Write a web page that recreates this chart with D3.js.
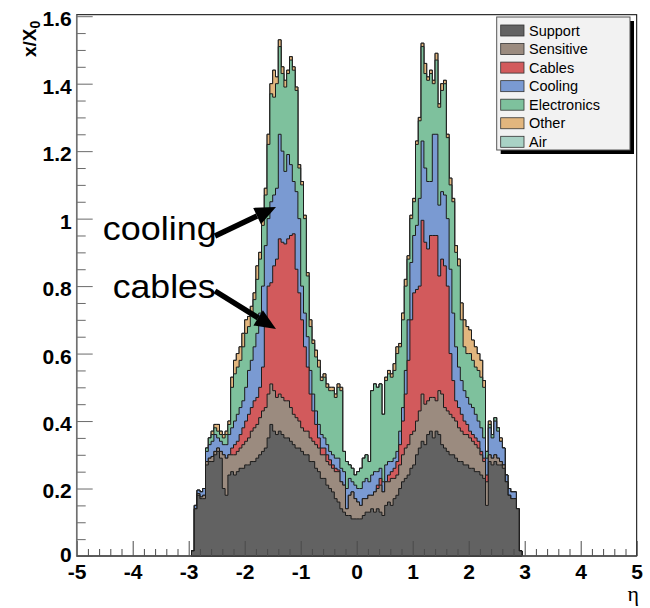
<!DOCTYPE html>
<html>
<head>
<meta charset="utf-8">
<script src="https://cdn.jsdelivr.net/npm/d3@7"></script>
<style>
  body { margin: 0; background: #fff; }
  svg { display: block; }
</style>
</head>
<body>
<svg id="chart" width="650" height="608"></svg>
<script>
// Material budget x/X0 versus pseudorapidity, stacked by category.
// Bins of width 0.05 in eta starting at -2.95 (118 bins).
const etaStart = -2.95;
const binWidth = 0.05;

const support = [
  .015,.14,.18,.17,.17,.27,.28,.28,.30,.31,
  .29,.20,.18,.24,.25,.24,.25,.26,.26,.27,
  .27,.28,.28,.29,.30,.31,.32,.35,.39,.37,
  .36,.37,.36,.35,.35,.34,.33,.32,.32,.31,
  .30,.30,.28,.28,.26,.25,.23,.23,.21,.20,
  .19,.17,.16,.14,.13,.12,.12,.11,.11,.11,
  .11,.12,.13,.13,.14,.13,.14,.13,.12,.15,
  .16,.15,.17,.18,.20,.22,.23,.24,.26,.27,
  .30,.32,.34,.33,.36,.37,.35,.37,.36,.33,
  .32,.31,.30,.30,.29,.28,.28,.27,.27,.26,
  .26,.25,.25,.24,.23,.15,.28,.27,.28,.27,
  .27,.26,.22,.18,.17,.17,.14,.015
];
const sensitive = [
  0,0,.005,.005,.01,.01,.01,.015,.01,.01,
  .02,.10,.11,.06,.05,.06,.06,.06,.07,.07,
  .08,.09,.10,.10,.11,.12,.12,.13,.12,.12,
  .11,.11,.11,.11,.11,.10,.09,.09,.08,.07,
  .07,.07,.07,.06,.07,.07,.07,.07,.07,.07,
  .07,.08,.09,.08,.08,.02,.06,.08,.06,.05,
  .04,.05,.04,.05,.04,.06,.06,.08,.07,.07,
  .06,.08,.06,.06,.07,.08,.09,.09,.10,.10,
  .10,.11,.14,.12,.10,.10,.12,.09,.13,.15,
  .12,.12,.12,.11,.11,.10,.09,.09,.09,.09,
  .08,.08,.07,.06,.05,.07,.02,.02,.02,.02,
  .01,.01,0,0,0,0,0,0
];
const cables = [
  0,0,0,0,0,0,0,0,0,0,
  0,0,0,0,.02,.03,.03,.04,.05,.06,
  .07,.07,.08,.08,.09,.13,.24,.32,.30,.37,
  .41,.46,.46,.465,.48,.51,.535,.44,.38,.32,
  .25,.19,.13,.09,.06,.03,.02,.02,.02,.015,
  .01,.01,.005,0,0,0,0,0,0,0,
  0,0,0,0,0,0,.01,.02,0,0,
  .02,.02,.03,.04,.06,.10,.16,.25,.34,.41,
  .39,.37,.515,.48,.45,.48,.48,.49,.34,.40,
  .42,.37,.18,.11,.06,.06,.05,.04,.03,.02,
  .02,.02,.02,.01,.01,.02,0,0,0,0,
  0,0,0,0,0,0,0,0
];
const cooling = [
  0,.01,.01,.015,.02,.03,.04,.045,.05,.03,
  .03,.03,.04,.06,.06,.07,.08,.08,.08,.10,
  .13,.14,.16,.19,.22,.24,.24,.20,.24,.21,
  .21,.31,.27,.215,.25,.21,.155,.23,.22,.10,
  .10,.09,.07,.05,.04,.04,.04,.03,.03,.025,
  .03,.03,.035,.04,.04,.06,.05,.03,.04,.04,
  .05,.05,.06,.04,.06,.06,.04,.03,.03,.05,
  .04,.03,.03,.03,.04,.04,.07,.12,.17,.17,
  .19,.26,.235,.22,.20,.16,.30,.30,.21,.20,
  .21,.20,.25,.20,.16,.12,.10,.09,.08,.08,
  .08,.07,.06,.07,.06,.05,.08,.06,.10,.08,
  .06,.05,.02,.02,.02,.02,0,0
];
const electronics = [
  0,0,0,0,0,.01,.02,.02,.02,.02,
  .02,.02,.03,.03,.12,.14,.14,.14,.16,.16,
  .13,.14,.14,.16,.16,.18,.15,.22,.32,.29,
  .31,.26,.23,.25,.24,.31,.33,.30,.15,.30,
  .28,.18,.13,.15,.16,.17,.16,.18,.17,.18,
  .19,.18,.21,.23,.06,.08,.04,.04,.03,.05,
  .06,.07,.07,.06,.25,.26,.25,.25,.20,.25,
  .26,.25,.26,.29,.25,.26,.25,.18,.13,.10,
  .24,.23,.28,.28,.30,.32,.15,.22,.29,.30,
  .33,.24,.25,.33,.28,.30,.18,.13,.13,.15,
  .14,.14,.15,.15,.15,.02,.01,.01,.01,.01,
  0,0,0,0,0,0,0,0
];
const other = [
  0,0,0,0,0,0,0,.01,.01,.02,
  .01,.01,.01,.01,.03,.04,.04,.04,.04,.04,
  .03,.02,.02,.04,.02,.04,.02,.03,.03,.08,
  .02,.02,.02,.02,.01,.01,.01,.01,.01,.01,
  .01,.01,.02,.01,.02,.02,.01,.01,.01,.01,
  .01,.01,.01,.01,0,0,0,0,0,0,
  0,0,0,0,0,0,0,0,0,.01,
  .01,.01,.02,.02,.01,.02,.02,.01,.01,.01,
  .01,.01,.01,.03,.01,.01,.01,.02,.01,.02,
  .01,.01,.02,.01,.02,.02,.05,.08,.08,.07,
  .06,.06,.05,.05,.02,0,.01,0,0,0,
  .01,0,0,0,0,0,0,0
];
const air = [
  0,0,0,0,0,0,0,0,0,0,
  0,0,0,0,0,0,0,0,0,0,
  0,0,0,0,0,0,0,0,0,0,
  0,0,0,0,0,0,0,0,0,0,
  0,0,0,0,0,0,0,0,0,0,
  0,0,0,0,0,0,0,0,0,0,
  0,0,0,0,0,0,0,0,0,0,
  0,0,0,0,0,0,0,0,0,0,
  0,0,0,0,0,0,0,0,0,0,
  0,0,0,0,0,0,0,0,0,0,
  0,0,0,0,0,0,0,0,0,0,
  0,0,0,0,0,0,0,0
];

const layerNames = ["Support", "Sensitive", "Cables", "Cooling", "Electronics", "Other", "Air"];
const layerValues = [support, sensitive, cables, cooling, electronics, other, air];
const layerColors = ["#626262", "#9b8b7f", "#d25a5c", "#7a9ad2", "#7ec19d", "#e2b67e", "#a9d2c5"];

const xTicks = [-5, -4, -3, -2, -1, 0, 1, 2, 3, 4, 5];
const xTickLabels = ["-5", "-4", "-3", "-2", "-1", "0", "1", "2", "3", "4", "5"];
const yTicks = [0, 0.2, 0.4, 0.6, 0.8, 1.0, 1.2, 1.4, 1.6];
const yTickLabels = ["0", "0.2", "0.4", "0.6", "0.8", "1", "1.2", "1.4", "1.6"];

const svg = d3.select("#chart");
const x = d3.scaleLinear().domain([-5, 5]).range([76.7, 636.7]);
const y = d3.scaleLinear().domain([0, 1.6]).range([556, 16.2]);

// Rows for the stack layout
const rows = support.map((_, i) => {
  const r = { lo: etaStart + i * binWidth };
  layerNames.forEach((k, j) => { r[k] = layerValues[j][i]; });
  return r;
});
const stacked = d3.stack().keys(layerNames)(rows);

// Each cumulative histogram is filled from zero, topmost first,
// so the lower categories paint over it.
const area = d3.area()
  .curve(d3.curveStepAfter)
  .x(d => x(d.eta))
  .y0(y(0))
  .y1(d => y(d.top));

const histG = svg.append("g");
for (let k = stacked.length - 1; k >= 0; k--) {
  const pts = rows.map((r, i) => ({ eta: r.lo, top: stacked[k][i][1] }));
  const last = rows.length - 1;
  pts.push({ eta: rows[last].lo + binWidth, top: stacked[k][last][1] });
  histG.append("path")
    .attr("d", area(pts))
    .attr("fill", layerColors[k])
    .attr("stroke", "#1c1c1c")
    .attr("stroke-width", 1)
    .attr("stroke-linejoin", "miter");
}

// Frame
const fTop = y(1.6) - 1.5;
svg.append("rect")
  .attr("x", x(-5)).attr("y", fTop)
  .attr("width", x(5) - x(-5)).attr("height", y(0) - fTop)
  .attr("fill", "none").attr("stroke", "#000").attr("stroke-width", 1);

const tickFont = "'Liberation Sans', Arial, Helvetica, sans-serif";

// X axis: majors, minors
const xMinor = d3.range(-50, 51, 2).map(v => v / 10).filter(v => !xTicks.includes(v));
svg.append("g")
  .attr("transform", `translate(0,${y(0)})`)
  .call(d3.axisBottom(x).tickValues(xMinor).tickSize(-7).tickFormat(""))
  .call(g => g.select(".domain").remove())
  .call(g => g.selectAll("line").attr("stroke", "#4a4a4a"));
svg.append("g")
  .attr("transform", `translate(0,${y(0)})`)
  .call(d3.axisBottom(x).tickValues(xTicks).tickSize(-15).tickPadding(8)
    .tickFormat((d, i) => xTickLabels[i]))
  .call(g => g.select(".domain").remove())
  .call(g => g.selectAll("line").attr("stroke", "#4a4a4a"))
  .call(g => g.selectAll("text")
    .attr("fill", "#000")
    .style("font-family", tickFont)
    .style("font-weight", "bold")
    .style("font-size", "21px"));

// Y axis: majors, minors
const yMinor = d3.range(0, 33).map(v => v * 0.05).filter(v => Math.abs(v / 0.2 - Math.round(v / 0.2)) > 1e-6);
svg.append("g")
  .attr("transform", `translate(${x(-5)},0)`)
  .call(d3.axisLeft(y).tickValues(yMinor).tickSize(-9).tickFormat(""))
  .call(g => g.select(".domain").remove())
  .call(g => g.selectAll("line").attr("stroke", "#6a6a6a"));
svg.append("g")
  .attr("transform", `translate(${x(-5)},0)`)
  .call(d3.axisLeft(y).tickValues(yTicks).tickSize(-16).tickPadding(5)
    .tickFormat((d, i) => yTickLabels[i]))
  .call(g => g.select(".domain").remove())
  .call(g => g.selectAll("line").attr("stroke", "#6a6a6a"))
  .call(g => g.selectAll("text")
    .attr("fill", "#000")
    .attr("dy", d => d === 0 ? "0.25em" : "0.45em")
    .style("font-family", tickFont)
    .style("font-weight", "bold")
    .style("font-size", "21px"));

// Axis lines on left and bottom
svg.append("line")
  .attr("x1", x(-5)).attr("x2", x(-5)).attr("y1", fTop).attr("y2", y(0))
  .attr("stroke", "#707070").attr("stroke-width", 1.5);
svg.append("line")
  .attr("x1", x(-5)).attr("x2", x(5)).attr("y1", y(0)).attr("y2", y(0))
  .attr("stroke", "#505050").attr("stroke-width", 1.5);

// Axis titles
const yTitle = svg.append("text")
  .attr("transform", "translate(35.5,57) rotate(-90)")
  .style("font-family", tickFont)
  .style("font-weight", "bold")
  .style("font-size", "19px")
  .attr("fill", "#000");
yTitle.append("tspan").text("x/X");
yTitle.append("tspan").attr("dy", 4).style("font-size", "14px").text("0");

svg.append("text")
  .attr("x", 639).attr("y", 601)
  .attr("text-anchor", "end")
  .style("font-family", "'Liberation Serif', 'DejaVu Serif', serif")
  .style("font-size", "22px")
  .attr("fill", "#000")
  .text("η");

// Legend
const legX = 496.7, legY = 17, legW = 133.3, legH = 133;
svg.append("rect")
  .attr("x", legX + 4).attr("y", legY + 4).attr("width", legW).attr("height", legH)
  .attr("fill", "#000");
svg.append("rect")
  .attr("x", legX).attr("y", legY).attr("width", legW).attr("height", legH)
  .attr("fill", "#f2f2f2").attr("stroke", "#555").attr("stroke-width", 1);
const legRow = d3.scaleLinear().domain([0, 6]).range([30.5, 141.8]);
layerNames.forEach((name, i) => {
  const cy = legRow(i);
  svg.append("rect")
    .attr("x", 500.7).attr("y", cy - 5.5).attr("width", 23.3).attr("height", 11)
    .attr("fill", layerColors[i]).attr("stroke", "#333").attr("stroke-width", 0.8);
  svg.append("text")
    .attr("x", 529).attr("y", cy).attr("dy", "0.36em")
    .style("font-family", tickFont)
    .style("font-size", "14.5px")
    .attr("fill", "#000")
    .text(name);
});

// Annotations with arrows
const annFont = "'Liberation Sans', Arial, Helvetica, sans-serif";
svg.append("text")
  .attr("x", 102.7).attr("y", 240)
  .attr("textLength", 114).attr("lengthAdjust", "spacingAndGlyphs")
  .style("font-family", annFont).style("font-size", "32.5px")
  .attr("fill", "#000").text("cooling");
svg.append("text")
  .attr("x", 112.7).attr("y", 298.3)
  .attr("textLength", 103).attr("lengthAdjust", "spacingAndGlyphs")
  .style("font-family", annFont).style("font-size", "32.5px")
  .attr("fill", "#000").text("cables");

function arrow(x1, y1, x2, y2) {
  const ang = Math.atan2(y2 - y1, x2 - x1);
  const headLen = 21, headHalf = 9;
  const bx = x2 - headLen * Math.cos(ang), by = y2 - headLen * Math.sin(ang);
  svg.append("line")
    .attr("x1", x1).attr("y1", y1).attr("x2", bx).attr("y2", by)
    .attr("stroke", "#000").attr("stroke-width", 5.5);
  const px = -Math.sin(ang) * headHalf, py = Math.cos(ang) * headHalf;
  svg.append("path")
    .attr("d", `M${x2},${y2}L${bx + px},${by + py}L${bx - px},${by - py}Z`)
    .attr("fill", "#000");
}
arrow(215, 236, 276, 207);
arrow(215, 291, 276, 329);
</script>
</body>
</html>
